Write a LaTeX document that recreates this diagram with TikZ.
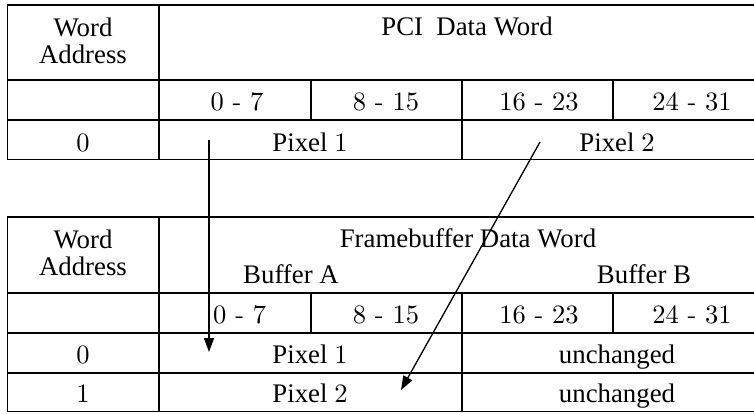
\documentclass[tikz,border=0pt]{standalone}
\usepackage{fontspec}
\usepackage{graphicx}
\setmainfont{Liberation Serif}
\usetikzlibrary{arrows.meta}
\newcommand\numf[1]{\scalebox{2.65}{\fontfamily{lmr}\fontsize{10}{12}\selectfont #1}}
\tikzset{
  grid/.style={line width=1.7pt, line cap=rect},
  lbl/.style={anchor=base, inner sep=0pt, font=\fontsize{26.8}{29}\selectfont},
  mover/.style={line width=1.3pt, -{Triangle[length=14pt,width=10pt]}}
}
\begin{document}
\begin{tikzpicture}[x=1pt,y=-1pt]
\useasboundingbox (0,0) rectangle (754,413);
\clip (0,0) rectangle (754,413);
% ---------- top table ----------
\draw[grid] (7.5,5) -- (780,5);
\draw[grid] (7.5,80) -- (780,80);
\draw[grid] (7.5,120) -- (780,120);
\draw[grid] (7.5,159.5) -- (780,159.5);
\draw[grid] (7.5,5) -- (7.5,159.5);
\draw[grid] (159,5) -- (159,159.5);
\draw[grid] (311,80) -- (311,120);
\draw[grid] (462,80) -- (462,159.5);
\draw[grid] (613,80) -- (613,120);
\node[lbl] (tw) at (83,36) {Word};
\node[lbl] (ta) at (83,63) {Address};
\node[lbl] (tp) at (467,35) {PCI\ \ Data Word};
\node[lbl] (t07) at (237,110) {\numf{0 - 7}};
\node[lbl] (t815) at (386,110) {\numf{8 - 15}};
\node[lbl] (t1623) at (539,110) {\numf{16 - 23}};
\node[lbl] (t2431) at (692,110) {\numf{24 - 31}};
\node[lbl] (t0) at (83,151) {\numf{0}};
\node[lbl] (tp1) at (310,151) {Pixel \numf{1}};
\node[lbl] (tp2) at (617,151) {Pixel \numf{2}};
% ---------- bottom table ----------
\draw[grid] (7.5,217) -- (780,217);
\draw[grid] (7.5,293) -- (780,293);
\draw[grid] (7.5,333) -- (780,333);
\draw[grid] (7.5,373) -- (780,373);
\draw[grid] (7.5,411.5) -- (780,411.5);
\draw[grid] (7.5,217) -- (7.5,411.5);
\draw[grid] (159,217) -- (159,411.5);
\draw[grid] (311,293) -- (311,333);
\draw[grid] (462,293) -- (462,411.5);
\draw[grid] (613,293) -- (613,333);
\node[lbl] (bw) at (83,248) {Word};
\node[lbl] (ba) at (83,275) {Address};
\node[lbl] (bf) at (468,247) {Framebuffer Data Word};
\node[lbl] (bba) at (291,283) {Buffer A};
\node[lbl] (bbb) at (644,283) {Buffer B};
\node[lbl, anchor=base west] (b07) at (213,323) {\numf{0 - 7}};
\node[lbl] (b815) at (386,323) {\numf{8 - 15}};
\node[lbl] (b1623) at (539,323) {\numf{16 - 23}};
\node[lbl] (b2431) at (692,323) {\numf{24 - 31}};
\node[lbl] (b0) at (83,363) {\numf{0}};
\node[lbl] (bp1) at (310,363) {Pixel \numf{1}};
\node[lbl] (bu1) at (617,363) {unchanged};
\node[lbl] (b1) at (83,402) {\numf{1}};
\node[lbl] (bp2) at (310,402) {Pixel \numf{2}};
\node[lbl] (bu2) at (617,402) {unchanged};
% ---------- arrows ----------
\coordinate (s1) at (209,140);
\coordinate (e1) at (209,352);
\coordinate (s2) at (540,142);
\coordinate (e2) at (401,390);
\draw[mover] (s1) -- (e1);
\draw[mover] (s2) -- (e2);
\end{tikzpicture}
\end{document}
